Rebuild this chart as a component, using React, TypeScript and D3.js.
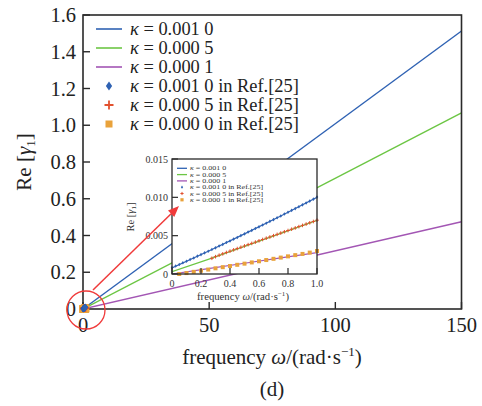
import React from "react";
import * as d3 from "d3";

// Main chart: Re[γ1] versus frequency for three values of κ
const mainOmega = [0, 150];
const mainK0010 = [0, 1.513];
const mainK0005 = [0, 1.068];
const mainK0001 = [0, 0.475];

// Inset: zoom on 0 ≤ ω ≤ 1
const insetOmega = [0, 0.25, 0.5, 0.75, 1.0];
const insetK0010 = [0.0008, 0.00297, 0.00523, 0.00757, 0.01];
const insetK0005 = [0.0003, 0.0019, 0.0036, 0.0053, 0.007];
const insetK0001 = [0.0, 0.0007, 0.0014, 0.0021, 0.0028];

// Reference data from Ref.[25]
const refBlueOmega = [
  0, 0.025, 0.05, 0.075, 0.1, 0.125, 0.15, 0.175, 0.2, 0.225, 0.25, 0.275, 0.3, 0.325,
  0.35, 0.375, 0.4, 0.425, 0.45, 0.475, 0.5, 0.525, 0.55, 0.575, 0.6, 0.625, 0.65, 0.675,
  0.7, 0.725, 0.75, 0.775, 0.8, 0.825, 0.85, 0.875, 0.9, 0.925, 0.95, 0.975, 1.0,
];
const refBlueValue = [
  0.00085, 0.00104, 0.00123, 0.00146, 0.00166, 0.00189, 0.00209, 0.00233, 0.00253, 0.00276,
  0.00297, 0.0032, 0.00341, 0.00365, 0.00386, 0.0041, 0.00431, 0.00455, 0.00477, 0.00501,
  0.00523, 0.00547, 0.00569, 0.00593, 0.00615, 0.0064, 0.00662, 0.00687, 0.00709, 0.00734,
  0.00757, 0.00782, 0.00805, 0.0083, 0.00853, 0.00878, 0.00902, 0.00927, 0.00951, 0.00976,
  0.01003,
];
const refRedOmega = [
  0.275, 0.3, 0.325, 0.35, 0.375, 0.4, 0.425, 0.45, 0.475, 0.5, 0.525, 0.55, 0.575, 0.6,
  0.625, 0.65, 0.675, 0.7, 0.725, 0.75, 0.775, 0.8, 0.825, 0.85, 0.875, 0.9, 0.925, 0.95,
  0.975, 1.0,
];
const refRedValue = [
  0.00205, 0.00226, 0.00245, 0.00263, 0.00281, 0.00298, 0.00315, 0.00332, 0.00349, 0.00366,
  0.00383, 0.00399, 0.00416, 0.00433, 0.0045, 0.00467, 0.00483, 0.005, 0.00517, 0.00534,
  0.00551, 0.00567, 0.00584, 0.00601, 0.00618, 0.00634, 0.00651, 0.00668, 0.00685, 0.00702,
];
const refOrangeOmega = [
  0.05, 0.1, 0.15, 0.2, 0.25, 0.3, 0.35, 0.4, 0.45, 0.5, 0.55, 0.6, 0.65, 0.7, 0.75, 0.8,
  0.85, 0.9, 0.95, 1.0,
];
const refOrangeValue = [
  0.0, 0.00012, 0.00028, 0.00043, 0.00058, 0.00074, 0.00089, 0.00104, 0.0012, 0.00135,
  0.00151, 0.00166, 0.00182, 0.00198, 0.00214, 0.0023, 0.00246, 0.00262, 0.00279, 0.003,
];

const mainXTicks = [0, 50, 100, 150];
const mainYTicks = [0, 0.2, 0.4, 0.6, 0.8, 1.0, 1.2, 1.4, 1.6];
const mainYTickLabels = ["0", "0.2", "0.4", "0.6", "0.8", "1.0", "1.2", "1.4", "1.6"];
const insetXTicks = [0, 0.2, 0.4, 0.6, 0.8, 1.0];
const insetXTickLabels = ["0", "0.2", "0.4", "0.6", "0.8", "1.0"];
const insetYTicks = [0, 0.005, 0.01, 0.015];
const insetYTickLabels = ["0", "0.005", "0.010", "0.015"];

const lineLegend = ["0.001 0", "0.000 5", "0.000 1"];
const mainRefLegend = ["0.001 0", "0.000 5", "0.000 0"];
const insetRefLegend = ["0.001 0", "0.000 5", "0.000 1"];

const BLUE = "#2f62b3";
const GREEN = "#6cc644";
const PURPLE = "#a356b4";
const RED = "#e2512e";
const ORANGE = "#e9a23b";
const ARROW = "#f03a3a";
const FRAME = "#2a2a2a";
const FONT = "'Liberation Serif', 'Times New Roman', serif";

type MarkerKind = "diamond" | "plus" | "square";

function Marker({ kind, x, y, s, color }: { kind: MarkerKind; x: number; y: number; s: number; color: string }) {
  if (kind === "diamond") {
    return (
      <path
        d={`M${x},${y - s} L${x + s * 0.7},${y} L${x},${y + s} L${x - s * 0.7},${y} Z`}
        fill={color}
      />
    );
  }
  if (kind === "plus") {
    return (
      <path
        d={`M${x - s},${y} L${x + s},${y} M${x},${y - s} L${x},${y + s}`}
        stroke={color}
        strokeWidth={Math.max(1, s * 0.4)}
      />
    );
  }
  return <rect x={x - s} y={y - s} width={2 * s} height={2 * s} fill={color} />;
}

function Kappa({ value, suffix }: { value: string; suffix?: string }) {
  return (
    <>
      <tspan fontStyle="italic">κ</tspan>
      {` = ${value}${suffix ?? ""}`}
    </>
  );
}

export default function App() {
  // main axes
  const x = d3.scaleLinear().domain([0, 150]).range([83, 461.5]);
  const y = d3.scaleLinear().domain([0, 1.6]).range([309, 15]);
  // inset axes
  const xi = d3.scaleLinear().domain([0, 1]).range([172, 317]);
  const yi = d3.scaleLinear().domain([0, 0.015]).range([274, 159]);

  const mainLine = d3
    .line<number>()
    .x((_, i) => x(mainOmega[i]))
    .y((d) => y(d));
  const insetLine = d3
    .line<number>()
    .x((_, i) => xi(insetOmega[i]))
    .y((d) => yi(d));

  const mainSeries = [
    { v: mainK0010, c: BLUE },
    { v: mainK0005, c: GREEN },
    { v: mainK0001, c: PURPLE },
  ];
  const insetSeries = [
    { v: insetK0010, c: BLUE },
    { v: insetK0005, c: GREEN },
    { v: insetK0001, c: PURPLE },
  ];
  const refSeries: { xs: number[]; ys: number[]; c: string; k: MarkerKind }[] = [
    { xs: refOrangeOmega, ys: refOrangeValue, c: ORANGE, k: "square" },
    { xs: refRedOmega, ys: refRedValue, c: RED, k: "plus" },
    { xs: refBlueOmega, ys: refBlueValue, c: BLUE, k: "diamond" },
  ];

  const [x0, x1] = x.range();
  const [y0, y1] = y.range();
  const [ix0, ix1] = xi.range();
  const [iy0, iy1] = yi.range();

  const legendColors = [BLUE, GREEN, PURPLE];
  const refLegendMarks: { c: string; k: MarkerKind }[] = [
    { c: BLUE, k: "diamond" },
    { c: RED, k: "plus" },
    { c: ORANGE, k: "square" },
  ];

  // arrow from the circled origin to the inset
  const arrowStart = [93, 290];
  const arrowEnd = [179, 206];
  const ang = Math.atan2(arrowEnd[1] - arrowStart[1], arrowEnd[0] - arrowStart[0]);
  const headLen = 11;
  const headHalf = 4.5;
  const hb = [arrowEnd[0] - headLen * Math.cos(ang), arrowEnd[1] - headLen * Math.sin(ang)];
  const head = `M${arrowEnd[0]},${arrowEnd[1]} L${hb[0] + headHalf * Math.sin(ang)},${hb[1] - headHalf * Math.cos(ang)} L${hb[0] - headHalf * Math.sin(ang)},${hb[1] + headHalf * Math.cos(ang)} Z`;

  const insetLegendRows = [168.3, 174.6, 180.9, 187.2, 193.5, 199.8];
  const insetLegendStretch = `translate(190,0) scale(1.35,1) translate(-190,0)`;

  return (
    <svg
      width={482}
      height={406}
      style={{ position: "absolute", left: 0, top: 0, background: "#fff" }}
      fontFamily={FONT}
    >
      <rect width={482} height={406} fill="#fff" />
      <defs>
        <clipPath id="mainClip">
          <rect x={x0} y={y1} width={x1 - x0} height={y0 - y1} />
        </clipPath>
        <clipPath id="insetClip">
          <rect x={ix0} y={iy1} width={ix1 - ix0} height={iy0 - iy1} />
        </clipPath>
      </defs>

      {/* main lines */}
      <g clipPath="url(#mainClip)">
        {mainSeries.map((s, i) => (
          <path key={i} d={mainLine(s.v) ?? ""} fill="none" stroke={s.c} strokeWidth={1.4} />
        ))}
      </g>

      {/* main frame and inward ticks */}
      <rect x={x0} y={y1} width={x1 - x0} height={y0 - y1} fill="none" stroke={FRAME} strokeWidth={1.6} />
      {mainYTicks.map((t, i) => (
        <g key={`my${i}`}>
          <line x1={x0} x2={x0 + 7} y1={y(t)} y2={y(t)} stroke={FRAME} strokeWidth={1.4} />
          <text x={76} y={y(t)} dy="0.35em" textAnchor="end" fontSize={20.5} fill="#222">
            {mainYTickLabels[i]}
          </text>
        </g>
      ))}
      {mainXTicks.map((t, i) => (
        <g key={`mx${i}`}>
          <line x1={x(t)} x2={x(t)} y1={y0} y2={y0 - 7} stroke={FRAME} strokeWidth={1.4} />
          <text x={x(t)} y={332} textAnchor="middle" fontSize={20.5} fill="#222">
            {t}
          </text>
        </g>
      ))}

      {/* axis titles */}
      <text
        transform={`translate(31,162) rotate(-90)`}
        textAnchor="middle"
        fontSize={21}
        fill="#222"
      >
        Re [<tspan fontStyle="italic">γ</tspan>
        <tspan fontSize={13} dy={4}>1</tspan>
        <tspan dy={-4}>]</tspan>
      </text>
      <text x={272} y={364} textAnchor="middle" fontSize={21} fill="#222">
        frequency <tspan fontStyle="italic">ω</tspan>/(rad·s
        <tspan fontSize={13} dy={-8}>−1</tspan>
        <tspan dy={8}>)</tspan>
      </text>
      <text x={272} y={396} textAnchor="middle" fontSize={21} fill="#222">
        (d)
      </text>

      {/* main legend */}
      {lineLegend.map((lab, i) => (
        <g key={`ml${i}`}>
          <line x1={96} x2={122} y1={29 + i * 19} y2={29 + i * 19} stroke={legendColors[i]} strokeWidth={1.6} />
          <text x={130} y={29 + i * 19} dy="0.35em" fontSize={18.4} fill="#222">
            <Kappa value={lab} />
          </text>
        </g>
      ))}
      {mainRefLegend.map((lab, i) => (
        <g key={`mr${i}`}>
          <Marker kind={refLegendMarks[i].k} x={109} y={86 + i * 19} s={refLegendMarks[i].k === "square" ? 3.5 : 4.5} color={refLegendMarks[i].c} />
          <text x={130} y={86 + i * 19} dy="0.35em" fontSize={18.4} fill="#222">
            <Kappa value={lab} suffix=" in Ref.[25]" />
          </text>
        </g>
      ))}

      {/* Ref.[25] points on the main axes (all sit near the origin) */}
      {refSeries.map((s, si) =>
        s.xs.map((w, j) => (
          <Marker key={`mm${si}-${j}`} kind={s.k} x={x(w)} y={y(s.ys[j])} s={s.k === "square" ? 3.8 : 3.5} color={s.c} />
        ))
      )}

      {/* inset */}
      <rect x={ix0} y={iy1} width={ix1 - ix0} height={iy0 - iy1} fill="#fff" />
      <g clipPath="url(#insetClip)">
        {insetSeries.map((s, i) => (
          <path key={i} d={insetLine(s.v) ?? ""} fill="none" stroke={s.c} strokeWidth={1.2} />
        ))}
      </g>
      {refSeries.map((s, si) =>
        s.xs.map((w, j) => (
          <Marker key={`im${si}-${j}`} kind={s.k} x={xi(w)} y={yi(s.ys[j])} s={s.k === "square" ? 2 : 1.8} color={s.c} />
        ))
      )}
      <rect x={ix0} y={iy1} width={ix1 - ix0} height={iy0 - iy1} fill="none" stroke={FRAME} strokeWidth={1.3} />
      {insetYTicks.map((t, i) => (
        <g key={`iy${i}`}>
          <line x1={ix0} x2={ix0 + 6} y1={yi(t)} y2={yi(t)} stroke={FRAME} strokeWidth={1.2} />
          <text x={168} y={yi(t)} dy="0.35em" textAnchor="end" fontSize={10} fill="#333">
            {insetYTickLabels[i]}
          </text>
        </g>
      ))}
      {insetXTicks.map((t, i) => (
        <g key={`ix${i}`}>
          <line x1={xi(t)} x2={xi(t)} y1={iy0} y2={iy0 - 6} stroke={FRAME} strokeWidth={1.2} />
          <text x={xi(t)} y={287} textAnchor="middle" fontSize={10} fill="#333">
            {insetXTickLabels[i]}
          </text>
        </g>
      ))}
      <text transform={`translate(134,217) rotate(-90)`} textAnchor="middle" fontSize={10.5} fill="#333">
        Re [<tspan fontStyle="italic">γ</tspan>
        <tspan fontSize={7} dy={2}>1</tspan>
        <tspan dy={-2}>]</tspan>
      </text>
      <text x={243} y={300} textAnchor="middle" fontSize={10.7} fill="#333">
        frequency <tspan fontStyle="italic">ω</tspan>/(rad·s
        <tspan fontSize={7} dy={-4}>−1</tspan>
        <tspan dy={4}>)</tspan>
      </text>

      {/* inset legend */}
      {lineLegend.map((lab, i) => (
        <g key={`il${i}`}>
          <line x1={177} x2={187} y1={insetLegendRows[i]} y2={insetLegendRows[i]} stroke={legendColors[i]} strokeWidth={1.3} />
          <text x={190} y={insetLegendRows[i]} dy="0.35em" fontSize={5.9} fill="#333" transform={insetLegendStretch}>
            <Kappa value={lab} />
          </text>
        </g>
      ))}
      {insetRefLegend.map((lab, i) => (
        <g key={`ir${i}`}>
          <Marker kind={refLegendMarks[i].k} x={182} y={insetLegendRows[i + 3]} s={1.6} color={refLegendMarks[i].c} />
          <text x={190} y={insetLegendRows[i + 3]} dy="0.35em" fontSize={5.9} fill="#333" transform={insetLegendStretch}>
            <Kappa value={lab} suffix=" in Ref.[25]" />
          </text>
        </g>
      ))}

      {/* highlight circle and arrow */}
      <circle cx={86} cy={310} r={19} fill="none" stroke={ARROW} strokeWidth={1.3} />
      <line x1={arrowStart[0]} y1={arrowStart[1]} x2={hb[0]} y2={hb[1]} stroke={ARROW} strokeWidth={1.5} />
      <path d={head} fill={ARROW} />
    </svg>
  );
}
